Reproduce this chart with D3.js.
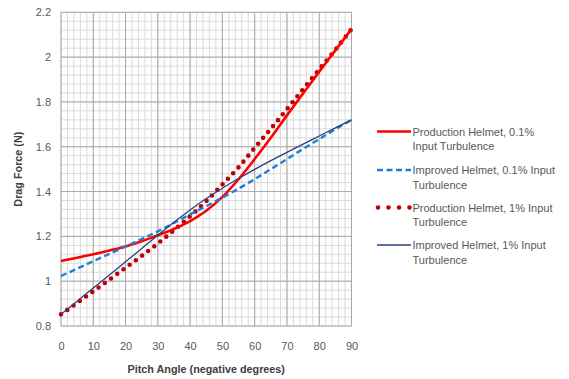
<!DOCTYPE html>
<html>
<head>
<meta charset="utf-8">
<script src="https://cdn.jsdelivr.net/npm/d3@7"></script>
<style>
  html, body { margin: 0; padding: 0; background: #fff; }
  svg { display: block; font-family: "Liberation Sans", Arial, sans-serif; }
</style>
</head>
<body>
<svg id="chart" width="569" height="379"></svg>
<script>
// Pitch angle samples (negative degrees)
const angles = [0, 5, 10, 15, 20, 25, 30, 35, 40, 45, 50, 55, 60, 65, 70, 75, 80, 85, 90];

// Drag force (N) for each configuration
const productionLowTurb = [1.09, 1.105, 1.12, 1.137, 1.155, 1.178, 1.205, 1.233, 1.268, 1.314, 1.376, 1.455, 1.545, 1.64, 1.74, 1.838, 1.935, 2.03, 2.125];
const improvedLowTurb   = [1.023, 1.056, 1.089, 1.122, 1.155, 1.188, 1.222, 1.26, 1.298, 1.335, 1.373, 1.413, 1.455, 1.5, 1.545, 1.59, 1.634, 1.678, 1.72];
const productionHighTurb = [0.852, 0.903, 0.955, 1.007, 1.06, 1.113, 1.168, 1.228, 1.29, 1.357, 1.432, 1.508, 1.595, 1.68, 1.768, 1.857, 1.945, 2.033, 2.125];
const improvedHighTurb  = [0.852, 0.911, 0.97, 1.028, 1.087, 1.146, 1.205, 1.263, 1.318, 1.369, 1.415, 1.458, 1.499, 1.538, 1.575, 1.612, 1.648, 1.684, 1.72];

const seriesNames = [
  ["Production Helmet, 0.1%", "Input Turbulence"],
  ["Improved Helmet, 0.1% Input", "Turbulence"],
  ["Production Helmet, 1% Input", "Turbulence"],
  ["Improved Helmet, 1% Input", "Turbulence"]
];

const xTicks = [0, 10, 20, 30, 40, 50, 60, 70, 80, 90];
const yTicks = [0.8, 1, 1.2, 1.4, 1.6, 1.8, 2, 2.2];

const svg = d3.select("#chart");
const plot = { left: 61, right: 351.5, top: 12.3, bottom: 326 };

const x = d3.scaleLinear().domain([0, 90]).range([plot.left, plot.right]);
const y = d3.scaleLinear().domain([0.8, 2.2]).range([plot.bottom, plot.top]);

const textColor = "#595959";

// Minor grid
const g = svg.append("g");
g.selectAll("line.minx").data(d3.range(0, 90.01, 2)).join("line")
  .attr("x1", d => x(d)).attr("x2", d => x(d))
  .attr("y1", plot.top).attr("y2", plot.bottom)
  .attr("stroke", "#dadada").attr("stroke-width", 1);
g.selectAll("line.miny").data(d3.range(0, 35.01, 1).map(i => 0.8 + i * 0.04)).join("line")
  .attr("x1", plot.left).attr("x2", plot.right)
  .attr("y1", d => y(d)).attr("y2", d => y(d))
  .attr("stroke", "#dadada").attr("stroke-width", 1);

// Major grid
g.selectAll("line.majx").data(xTicks).join("line")
  .attr("x1", d => x(d)).attr("x2", d => x(d))
  .attr("y1", plot.top).attr("y2", plot.bottom)
  .attr("stroke", "#a8a8a8").attr("stroke-width", 1);
g.selectAll("line.majy").data(yTicks).join("line")
  .attr("x1", plot.left).attr("x2", plot.right)
  .attr("y1", d => y(d)).attr("y2", d => y(d))
  .attr("stroke", "#a8a8a8").attr("stroke-width", 1);

// Axes (labels only)
const xAxis = d3.axisBottom(x).tickValues(xTicks).tickSize(0).tickPadding(16).tickFormat(d3.format("d"));
const yAxis = d3.axisLeft(y).tickValues(yTicks).tickSize(0).tickPadding(10).tickFormat(d => String(d));

const gx = svg.append("g").attr("transform", `translate(0,${plot.bottom})`).call(xAxis);
const gy = svg.append("g").attr("transform", `translate(${plot.left},0)`).call(yAxis);
[gx, gy].forEach(a => {
  a.select(".domain").remove();
  a.selectAll("text").attr("fill", textColor).style("font-size", "11px");
});

// Axis titles
svg.append("text")
  .attr("x", (plot.left + plot.right) / 2).attr("y", 373)
  .attr("text-anchor", "middle").attr("font-weight", "bold")
  .attr("font-size", "10.8px").attr("fill", "#404040")
  .text("Pitch Angle (negative degrees)");
svg.append("text")
  .attr("transform", `translate(22,${(plot.top + plot.bottom) / 2}) rotate(-90)`)
  .attr("text-anchor", "middle").attr("font-weight", "bold")
  .attr("font-size", "10.8px").attr("fill", "#404040")
  .text("Drag Force (N)");

// Series
const styles = [
  { color: "#ff0000", width: 2.6, dash: null, cap: "butt", legendDash: null },
  { color: "#1f7fd4", width: 2.4, dash: "6,3.5", cap: "butt", legendDash: "6,3.5" },
  { color: "#c00000", width: 4.6, dash: "0,7.7", cap: "round", legendDash: "0,10.5" },
  { color: "#2b3f82", width: 1.3, dash: null, cap: "butt", legendDash: null }
];
const values = [productionLowTurb, improvedLowTurb, productionHighTurb, improvedHighTurb];

const line = d3.line()
  .x(d => x(d[0])).y(d => y(d[1]))
  .curve(d3.curveMonotoneX);

const drawOrder = [2, 0, 1, 3];
drawOrder.forEach(i => {
  const pts = angles.map((a, k) => [a, values[i][k]]);
  const s = styles[i];
  svg.append("path")
    .attr("d", line(pts))
    .attr("fill", "none")
    .attr("stroke", s.color)
    .attr("stroke-width", s.width)
    .attr("stroke-linecap", s.cap)
    .attr("stroke-dasharray", s.dash);
});

// Legend
const legendY = [131.5, 170, 207.5, 245];
const lg = svg.append("g");
seriesNames.forEach((name, i) => {
  const s = styles[i];
  const yy = legendY[i];
  lg.append("line")
    .attr("x1", i === 2 ? 378 : 377).attr("x2", i === 2 ? 410 : 411)
    .attr("y1", yy).attr("y2", yy)
    .attr("stroke", s.color)
    .attr("stroke-width", s.width)
    .attr("stroke-linecap", s.cap)
    .attr("stroke-dasharray", s.legendDash);
  lg.append("text")
    .attr("x", 412.5).attr("y", yy + 4)
    .attr("fill", textColor).attr("font-size", "11px")
    .text(name[0]);
  lg.append("text")
    .attr("x", 412.5).attr("y", yy + 18.5)
    .attr("fill", textColor).attr("font-size", "11px")
    .text(name[1]);
});
</script>
</body>
</html>
